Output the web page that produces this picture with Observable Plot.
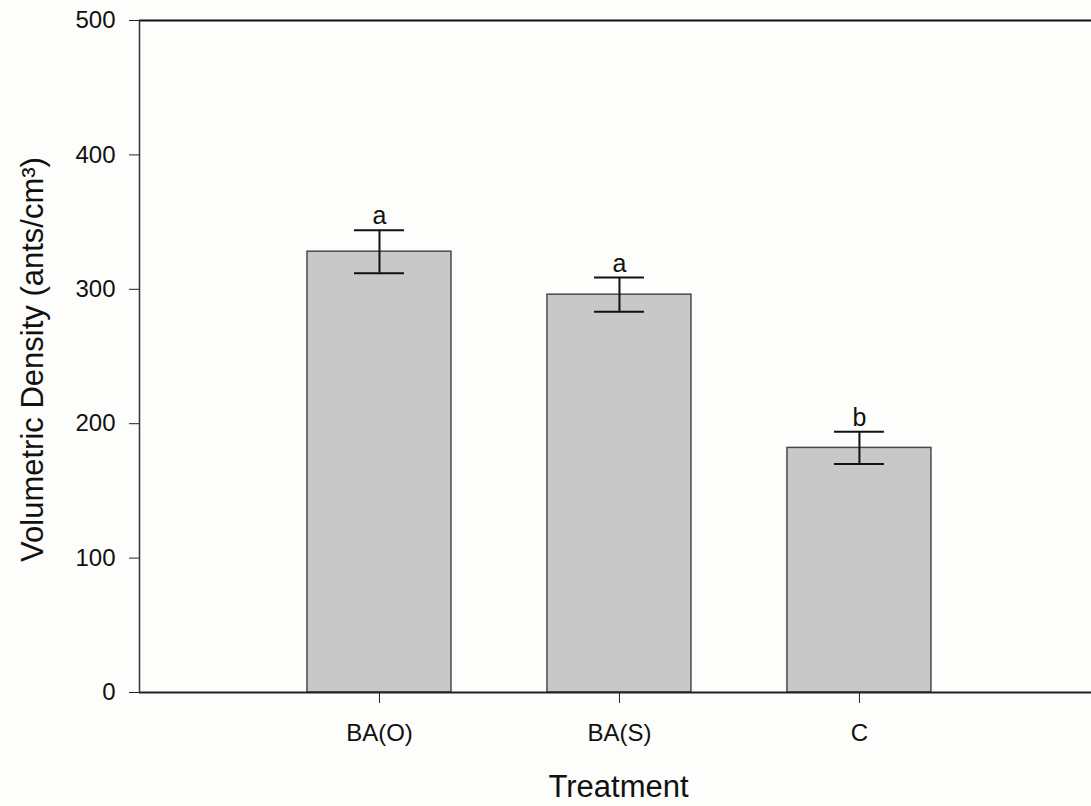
<!DOCTYPE html>
<html>
<head>
<meta charset="utf-8">
<script src="https://cdn.jsdelivr.net/npm/d3@7"></script>
<script src="https://cdn.jsdelivr.net/npm/@observablehq/plot@0.6"></script>
<style>
  html, body { margin: 0; padding: 0; background: #fdfdfb; }
  #chart svg { display: block; }
</style>
</head>
<body>
<div id="chart"></div>
<script>
const categories = ["BA(O)", "BA(S)", "C"];
const means = [328, 296, 182];
const errors = [16, 12.7, 12];
const letters = ["a", "a", "b"];
const yTicks = [0, 100, 200, 300, 400, 500];

const data = categories.map((c, i) => ({
  cat: c, pos: i + 1, mean: means[i], se: errors[i], letter: letters[i]
}));

const font = "'Liberation Sans', Arial, Helvetica, sans-serif";

const chart = Plot.plot({
  width: 1091,
  height: 806,
  marginLeft: 139,
  marginRight: 0,
  marginTop: 20,
  marginBottom: 114,
  style: { fontFamily: font, background: "#fdfdfb", color: "#111" },
  x: { type: "linear", domain: [0, 3.967] },
  y: { domain: [0, 500] },
  marks: [
    Plot.rectY(data, {
      x1: d => d.pos - 0.3, x2: d => d.pos + 0.3, y1: 0, y2: "mean",
      fill: "#c8c8c8", stroke: "#4a4a4a", strokeWidth: 1.5
    }),
    Plot.ruleX(data, {
      x: "pos", y1: d => d.mean - d.se, y2: d => d.mean + d.se,
      stroke: "#111", strokeWidth: 2
    }),
    Plot.ruleY(data, {
      y: d => d.mean + d.se, x1: d => d.pos - 0.104, x2: d => d.pos + 0.104,
      stroke: "#111", strokeWidth: 2
    }),
    Plot.ruleY(data, {
      y: d => d.mean - d.se, x1: d => d.pos - 0.104, x2: d => d.pos + 0.104,
      stroke: "#111", strokeWidth: 2
    }),
    Plot.text(data, {
      x: "pos", y: d => d.mean + d.se, text: "letter",
      lineAnchor: "bottom", dy: -6, fontSize: 25, fill: "#111"
    }),
    Plot.ruleY([500], { stroke: "#111", strokeWidth: 2.2 }),
    Plot.ruleY([0], { stroke: "#222", strokeWidth: 2 }),
    Plot.ruleX([0], { stroke: "#333", strokeWidth: 1.5 }),
    Plot.axisY({
      ticks: yTicks, tickSize: 10, tickPadding: 14, fontSize: 24,
      label: null, stroke: "#222"
    }),
    Plot.axisX({
      ticks: data.map(d => d.pos), tickFormat: p => categories[p - 1],
      tickSize: 11, tickPadding: 20, fontSize: 24, label: null, stroke: "#222"
    }),
    Plot.text(["Volumetric Density (ants/cm³)"], {
      frameAnchor: "left", rotate: -90, dx: -106, dy: 3, fontSize: 31,
      textAnchor: "middle", lineAnchor: "middle", fill: "#111"
    }),
    Plot.text(["Treatment"], {
      frameAnchor: "bottom", dx: 3, dy: 95, fontSize: 31,
      textAnchor: "middle", lineAnchor: "middle", fill: "#111"
    })
  ]
});

document.getElementById("chart").append(chart);
</script>
</body>
</html>
